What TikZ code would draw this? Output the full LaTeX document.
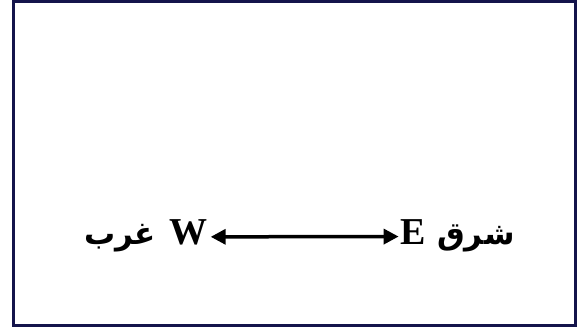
\documentclass[tikz,border=0pt]{standalone}
\usepackage{fontspec}
\setmainfont{Liberation Serif}
\newfontfamily\arabicfont[Script=Arabic]{DejaVu Sans}
\TeXXeTstate=1
\usetikzlibrary{arrows.meta}
\definecolor{frame}{RGB}{20,20,75}
\tikzstyle{every node}=[font=\fontsize{38}{42}\selectfont\bfseries,inner sep=0pt]
\tikzstyle{dir}=[anchor=base]
\tikzstyle{word}=[font=\fontsize{31}{38}\selectfont\bfseries\arabicfont]

\begin{document}
\begin{tikzpicture}[x=1pt,y=1pt,>={Triangle[length=15pt,width=15pt]}]
\useasboundingbox (0,0) rectangle (579,331);
\draw[line width=3pt,frame] (13,5) rectangle (575.5,329);
\node[dir] (W) at (188.5,86) {W};
\node[dir] (E) at (413.5,86) {E};
\node[word,anchor=base east] (gharb) at (156,86) {\beginR غرب\endR};
\node[word,anchor=base west] (sharq) at (437,86) {\beginR شرق\endR};
\draw[<->,line width=3.5pt,shorten <=3pt,shorten >=2pt] ([yshift=-4pt]W.east) -- ([yshift=-4pt]E.west);
\end{tikzpicture}
\end{document}
